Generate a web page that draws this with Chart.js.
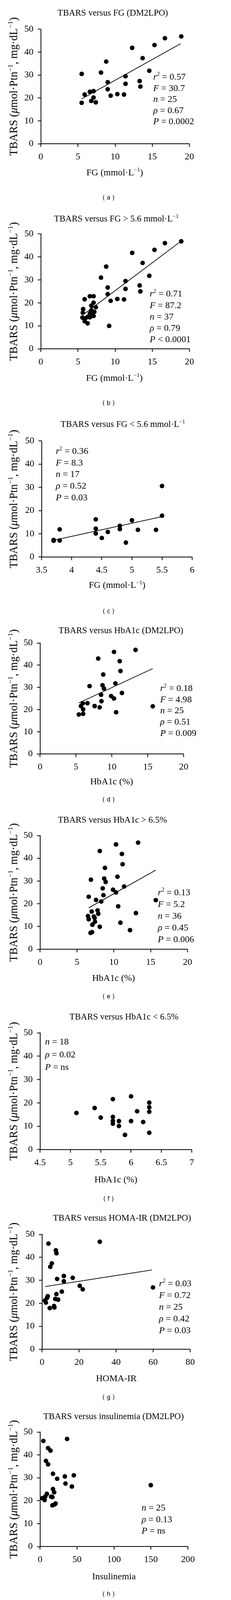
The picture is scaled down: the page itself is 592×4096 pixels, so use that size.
<!DOCTYPE html>
<html>
<head>
<meta charset="utf-8">
<script src="https://cdn.jsdelivr.net/npm/chart.js@4/dist/chart.umd.min.js"></script>
<style>
  html, body { margin: 0; padding: 0; background: #fff; }
  #wrap { position: relative; width: 592px; height: 4096px; overflow: hidden; background: #fff; }
</style>
</head>
<body>
<div id="wrap"></div>
<script>
// values

// (a) TBARS versus FG (DM2LPO)
const aFG     = [5.5, 5.5, 5.9, 6.6, 7.1, 6.8, 7.1, 7.4, 8.1, 8.8, 9.0, 9.0, 9.4, 10.3, 11.2, 11.4, 11.4, 12.3, 13.3, 13.4, 13.7, 14.6, 15.3, 16.7, 18.9];
const aTBARS  = [30.5, 17.9, 21.5, 22.7, 23.0, 18.7, 20.2, 18.1, 31.1, 35.9, 26.9, 23.8, 21.0, 21.7, 21.5, 29.5, 26.2, 41.9, 27.4, 25.0, 37.4, 31.9, 43.1, 46.1, 46.9];
const aFitX   = [5.5, 18.8];
const aFitY   = [19.6, 43.7];
const aStats  = ['r² = 0.57', 'F = 30.7', 'n = 25', 'ρ = 0.67', 'P = 0.0002'];

// (b) TBARS versus FG > 5.6
const bFG     = [18.9, 16.7, 15.3, 12.3, 13.7, 8.8, 14.6, 8.1, 11.4, 9.0, 13.3, 11.4, 13.4, 9.0, 9.4, 10.3, 11.2, 6.6, 7.1, 5.9, 7.1, 6.8, 7.4, 5.7, 5.65, 6.8, 7.2, 6.6, 5.6, 6.0, 6.3, 6.6, 7.1, 5.9, 6.3, 9.2, 6.95];
const bTBARS  = [46.8, 46.0, 43.1, 41.8, 37.4, 35.8, 31.8, 31.0, 29.5, 26.7, 27.6, 26.1, 25.0, 23.8, 20.9, 21.7, 21.5, 22.9, 22.9, 21.6, 20.1, 18.8, 18.1, 17.3, 15.7, 16.8, 16.1, 15.4, 13.6, 13.3, 13.9, 13.7, 14.3, 12.0, 11.1, 10.0, 15.7];
const bFitX   = [5.8, 18.8];
const bFitY   = [15.1, 46.7];
const bStats  = ['r² = 0.71', 'F = 87.2', 'n = 37', 'ρ = 0.79', 'P < 0.0001'];

// (c) TBARS versus FG < 5.6
const cFG     = [3.7, 3.7, 3.8, 3.8, 4.4, 4.4, 4.4, 4.5, 4.6, 4.8, 4.8, 4.9, 5.0, 5.1, 5.4, 5.5, 5.5];
const cTBARS  = [7.3, 7.0, 11.9, 7.1, 16.2, 12.2, 10.1, 8.2, 10.8, 13.4, 12.0, 6.2, 15.8, 11.7, 11.7, 17.8, 30.6];
const cFitX   = [3.7, 5.5];
const cFitY   = [7.2, 17.4];
const cStats  = ['r² = 0.36', 'F = 8.3', 'n = 17', 'ρ = 0.52', 'P = 0.03'];

// (d) TBARS versus HbA1c (DM2LPO)
const dHbA1c  = [13.3, 10.3, 8.1, 11.1, 11.2, 8.8, 10.5, 6.9, 8.7, 8.9, 11.4, 8.5, 9.9, 10.3, 8.55, 6.6, 5.95, 5.7, 7.6, 8.3, 6.0, 6.0, 5.4, 10.6, 15.7];
const dTBARS  = [46.9, 46.0, 43.0, 41.8, 37.4, 35.8, 31.8, 30.6, 31.0, 29.5, 27.5, 26.7, 26.1, 25.0, 23.8, 22.9, 22.8, 21.6, 21.6, 21.0, 20.1, 18.1, 17.8, 18.8, 21.5];
const dFitX   = [5.4, 15.7];
const dFitY   = [23.0, 38.5];
const dStats  = ['r² = 0.18', 'F = 4.98', 'n = 25', 'ρ = 0.51', 'P = 0.009'];

// (e) TBARS versus HbA1c > 6.5%
const eHbA1c  = [13.3, 10.3, 8.1, 11.1, 11.2, 8.8, 10.5, 6.9, 8.7, 8.9, 11.4, 8.5, 9.9, 10.3, 8.6, 6.6, 7.6, 8.3, 10.6, 15.7, 7.0, 7.8, 7.9, 6.5, 7.3, 6.6, 13.0, 7.4, 7.45, 7.1, 8.1, 6.85, 7.05, 10.9, 12.2];
const eTBARS  = [46.9, 46.1, 43.2, 41.9, 37.4, 35.8, 31.9, 30.6, 31.1, 29.6, 27.6, 26.8, 26.2, 25.0, 23.8, 23.1, 21.7, 21.0, 18.9, 21.6, 16.6, 17.1, 15.6, 14.6, 14.4, 13.2, 15.9, 13.8, 12.1, 10.8, 9.9, 7.2, 7.5, 11.7, 8.4];
const eFitX   = [6.6, 15.7];
const eFitY   = [18.2, 34.8];
const eStats  = ['r² = 0.13', 'F = 5.2', 'n = 36', 'ρ = 0.45', 'P = 0.006'];

// (f) TBARS versus HbA1c < 6.5%
const fHbA1c  = [5.1, 5.4, 5.5, 5.7, 5.7, 5.7, 5.7, 5.8, 5.8, 5.9, 6.0, 6.0, 6.1, 6.2, 6.3, 6.3, 6.3, 6.3];
const fTBARS  = [15.7, 17.8, 13.7, 21.6, 14.0, 12.3, 11.1, 12.2, 10.1, 6.3, 22.8, 12.2, 16.4, 11.8, 20.1, 18.1, 16.2, 7.2];
const fStats  = ['n = 18', 'ρ = 0.02', 'P = ns'];

// (g) TBARS versus HOMA-IR (DM2LPO)
const gHOMA   = [31.2, 3.5, 7.5, 7.8, 5.3, 4.5, 11.8, 16.6, 8.2, 11.8, 20.4, 22.0, 59.9, 10.7, 7.8, 3.1, 2.7, 7.2, 8.7, 1.6, 2.1, 4.2, 6.5, 6.7];
const gTBARS  = [46.8, 46.0, 43.1, 41.8, 37.4, 35.9, 31.9, 31.1, 30.6, 29.6, 27.6, 26.1, 26.9, 25.1, 24.0, 23.1, 22.3, 21.9, 21.6, 21.2, 20.3, 17.9, 18.8, 18.2];
const gFitX   = [1.7, 59.3];
const gFitY   = [27.3, 34.5];
const gStats  = ['r² = 0.03', 'F = 0.72', 'n = 25', 'ρ = 0.42', 'P = 0.03'];

// (h) TBARS versus insulinemia (DM2LPO)
const hIns    = [4.5, 36.6, 10.9, 14.1, 8.0, 10.9, 17.5, 45.7, 33.5, 23.1, 34.4, 149.8, 43.1, 17.5, 19.1, 9.2, 7.0, 14.9, 16.7, 3.1, 6.2, 21.0, 19.7, 16.7];
const hTBARS  = [46.1, 47.0, 43.0, 41.9, 37.4, 35.9, 31.8, 31.1, 30.6, 29.6, 27.5, 26.8, 26.2, 25.1, 23.7, 23.0, 21.8, 21.8, 21.6, 21.1, 20.3, 18.8, 18.4, 18.0];
const hStats  = ['n = 25', 'ρ = 0.13', 'P = ns'];

// tick labels
const yTicks    = [0, 10, 20, 30, 40, 50];
const fgTicks   = [0, 5, 10, 15, 20];
const fgLoTicks = [3.5, 4, 4.5, 5, 5.5, 6];
const hbTicks   = [0, 5, 10, 15, 20];
const hbLoTicks = [4.5, 5, 5.5, 6, 6.5, 7];
const homaTicks = [0, 20, 40, 60, 80];
const insTicks  = [0, 50, 100, 150, 200];

const yTitle = 'TBARS (μmol·Ptn⁻¹, mg·dL⁻¹)';

// everything below is laid out in reference pixels, then scaled
const S = 592 / 600;
const px = v => v * S;
const SERIF = '"Liberation Serif", "Times New Roman", serif';

// split a string into runs: ⁻¹ -> superscript, μ -> italic
function runs(str) {
    const out = [];
    let buf = '';
    for (let i = 0; i < str.length; i++) {
        const ch = str[i];
        if (ch === '⁻' && str[i + 1] === '¹') {
            if (buf) out.push([buf, '']); buf = '';
            out.push(['−1', 's']);
            i++;
        } else if (ch === 'μ') {
            if (buf) out.push([buf, '']); buf = '';
            out.push(['μ', 'i']);
        } else {
            buf += ch;
        }
    }
    if (buf) out.push([buf, '']);
    return out;
}

// stats line: first letter italic, optional ² superscript
function statRuns(str) {
    const out = [[str[0], 'i']];
    let rest = str.slice(1);
    if (rest[0] === '²') { out.push(['2', 's']); rest = rest.slice(1); }
    out.push([rest, '']);
    return out;
}

function fontFor(style, size) {
    const sz = style.includes('s') ? size * 0.62 : size;
    return (style.includes('i') ? 'italic ' : '') + sz + 'px ' + SERIF;
}

// draw runs with (x, y) = visual middle of the line
function drawRuns(ctx, parts, x, y, size, align) {
    const widths = parts.map(([t, st]) => { ctx.font = fontFor(st, size); return ctx.measureText(t).width; });
    const total = widths.reduce((a, b) => a + b, 0);
    let cx = align === 'center' ? x - total / 2 : x;
    const base = y + size * 0.32;
    ctx.textAlign = 'left';
    ctx.textBaseline = 'alphabetic';
    parts.forEach(([t, st], i) => {
        ctx.font = fontFor(st, size);
        ctx.fillText(t, cx, st.includes('s') ? base - size * 0.4 : base);
        cx += widths[i];
    });
}

// title, axis titles, stats and panel letter
function textPlugin(p) {
    return {
        id: 'panelText',
        afterDraw(chart) {
            const ctx = chart.ctx;
            const Y = v => px(v - p.slice[0]);
            ctx.save();
            ctx.fillStyle = '#000';
            drawRuns(ctx, runs(p.title), px(p.titlePos[0]), Y(p.titlePos[1]), px(23), 'center');
            drawRuns(ctx, runs(p.xTitle), px(p.xTitlePos[0]), Y(p.xTitlePos[1]), px(24), 'center');

            ctx.save();
            ctx.translate(px(35), Y((p.plot.T + p.plot.B) / 2));
            ctx.rotate(-Math.PI / 2);
            drawRuns(ctx, runs(yTitle), 0, 0, px(29), 'center');
            ctx.restore();

            p.stats.forEach((s, i) => {
                drawRuns(ctx, statRuns(s), px(p.statsPos[0]), Y(p.statsPos[1] + i * p.statsPos[2]), px(24), 'left');
            });

            ctx.font = px(15.5) + 'px "DejaVu Sans", sans-serif';
            ctx.textAlign = 'center';
            ctx.textBaseline = 'middle';
            ctx.fillText('( ' + p.letter + ' )', px(282), Y(p.labelY));
            ctx.restore();
        }
    };
}

const wrap = document.getElementById('wrap');

function makePanel(p) {
    const canvas = document.createElement('canvas');
    const h = Math.round(px(p.slice[1] - p.slice[0]));
    canvas.width = 592;
    canvas.height = h;
    canvas.style.position = 'absolute';
    canvas.style.left = '0px';
    canvas.style.top = Math.round(px(p.slice[0])) + 'px';
    wrap.appendChild(canvas);

    const xAxisH = 60;
    const datasets = [{
        data: p.x.map((v, i) => ({ x: v, y: p.y[i] })),
        backgroundColor: '#000',
        borderWidth: 0,
        pointRadius: px(6),
        clip: false
    }];
    if (p.fitX) {
        datasets.push({
            data: p.fitX.map((v, i) => ({ x: v, y: p.fitY[i] })),
            showLine: true,
            borderColor: '#000',
            borderWidth: px(1.8),
            pointRadius: 0,
            clip: false
        });
    }

    const tickFont = { family: SERIF, size: px(24) };
    const axisCommon = {
        type: 'linear',
        grid: { drawOnChartArea: false, drawTicks: true, tickLength: px(8), tickWidth: px(2), tickColor: '#000' },
        border: { display: true, color: '#000', width: px(2) }
    };

    new Chart(canvas, {
        type: 'scatter',
        data: { datasets },
        options: {
            responsive: false,
            animation: false,
            events: [],
            layout: {
                padding: {
                    left: 0,
                    top: px(p.plot.T - p.slice[0]),
                    right: 592 - px(p.plot.R),
                    bottom: h - px(p.plot.B - p.slice[0]) - px(xAxisH)
                }
            },
            plugins: { legend: { display: false }, tooltip: { enabled: false }, title: { display: false } },
            scales: {
                x: Object.assign({}, axisCommon, {
                    min: p.xTicks[0],
                    max: p.xTicks[p.xTicks.length - 1],
                    afterBuildTicks: s => { s.ticks = p.xTicks.map(v => ({ value: v })); },
                    afterFit: s => { s.height = px(xAxisH); },
                    ticks: { font: tickFont, color: '#000', padding: px(12), maxRotation: 0, autoSkip: false, callback: v => String(v) }
                }),
                y: Object.assign({}, axisCommon, {
                    min: 0,
                    max: 50,
                    afterBuildTicks: s => { s.ticks = yTicks.map(v => ({ value: v })); },
                    afterFit: s => { s.width = px(p.plot.L); },
                    ticks: { font: tickFont, color: '#000', padding: px(11), autoSkip: false, callback: v => String(v) }
                })
            }
        },
        plugins: [textPlugin(p)]
    });
}

const panels = [
    { letter: 'a', slice: [0, 530], plot: { L: 106, R: 492, T: 76, B: 373 },
      title: 'TBARS versus FG (DM2LPO)', titlePos: [293, 33], xTitle: 'FG (mmol·L⁻¹)', xTitlePos: [298, 447], labelY: 514,
      x: aFG, y: aTBARS, fitX: aFitX, fitY: aFitY, xTicks: fgTicks, stats: aStats, statsPos: [398, 199, 29] },
    { letter: 'b', slice: [530, 1060], plot: { L: 106, R: 492, T: 607, B: 905 },
      title: 'TBARS versus FG > 5.6 mmol·L⁻¹', titlePos: [302, 567], xTitle: 'FG (mmol·L⁻¹)', xTitlePos: [297, 980], labelY: 1047,
      x: bFG, y: bTBARS, fitX: bFitX, fitY: bFitY, xTicks: fgTicks, stats: bStats, statsPos: [389, 762, 29.5] },
    { letter: 'c', slice: [1060, 1600], plot: { L: 108, R: 499, T: 1144, B: 1445 },
      title: 'TBARS versus FG < 5.6 mmol·L⁻¹', titlePos: [319, 1100], xTitle: 'FG (mmol·L⁻¹)', xTitlePos: [304, 1518], labelY: 1587,
      x: cFG, y: cTBARS, fitX: cFitX, fitY: cFitY, xTicks: fgLoTicks, stats: cStats, statsPos: [145, 1170, 30] },
    { letter: 'd', slice: [1600, 2095], plot: { L: 104, R: 477, T: 1668, B: 1956 },
      title: 'TBARS versus HbA1c (DM2LPO)', titlePos: [314, 1635], xTitle: 'HbA1c (%)', xTitlePos: [290, 2027], labelY: 2075,
      x: dHbA1c, y: dTBARS, fitX: dFitX, fitY: dFitY, xTicks: hbTicks, stats: dStats, statsPos: [416, 1785, 29] },
    { letter: 'e', slice: [2095, 2605], plot: { L: 104, R: 487, T: 2168, B: 2463 },
      title: 'TBARS versus HbA1c > 6.5%', titlePos: [292, 2127], xTitle: 'HbA1c (%)', xTitlePos: [295, 2537], labelY: 2587,
      x: eHbA1c, y: eTBARS, fitX: eFitX, fitY: eFitY, xTicks: hbTicks, stats: eStats, statsPos: [410, 2315, 30.5] },
    { letter: 'f', slice: [2605, 3130], plot: { L: 104, R: 498, T: 2680, B: 2983 },
      title: 'TBARS versus HbA1c < 6.5%', titlePos: [322, 2638], xTitle: 'HbA1c (%)', xTitlePos: [301, 3060], labelY: 3112,
      x: fHbA1c, y: fTBARS, xTicks: hbLoTicks, stats: fStats, statsPos: [117, 2703, 33] },
    { letter: 'g', slice: [3130, 3645], plot: { L: 109, R: 494, T: 3203, B: 3501 },
      title: 'TBARS versus HOMA-IR (DM2LPO)', titlePos: [317, 3160], xTitle: 'HOMA-IR', xTitlePos: [302, 3576], labelY: 3627,
      x: gHOMA, y: gTBARS, fitX: gFitX, fitY: gFitY, xTicks: homaTicks, stats: gStats, statsPos: [413, 3330, 30.5] },
    { letter: 'h', slice: [3645, 4154], plot: { L: 104, R: 488, T: 3716, B: 4013 },
      title: 'TBARS versus insulinemia (DM2LPO)', titlePos: [295, 3675], xTitle: 'Insulinemia', xTitlePos: [296, 4090], labelY: 4138,
      x: hIns, y: hTBARS, xTicks: insTicks, stats: hStats, statsPos: [368, 3912, 30] }
];

panels.forEach(makePanel);
</script>
</body>
</html>
